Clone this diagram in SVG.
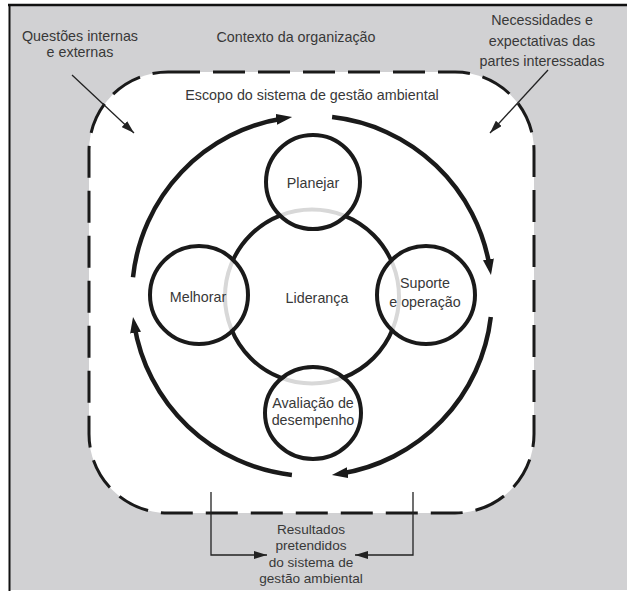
<svg xmlns="http://www.w3.org/2000/svg" width="627" height="593" viewBox="0 0 627 593">
  <style>
    .t { font-family: "Liberation Sans", Arial, sans-serif; font-size: 14.3px; fill: #383838; text-anchor: middle; }
    .ts { font-family: "Liberation Sans", Arial, sans-serif; font-size: 13.6px; fill: #383838; text-anchor: middle; }
    .node { fill: none; stroke: #1a1a1a; stroke-width: 4; }
    .cycle { fill: none; stroke: #1a1a1a; stroke-width: 4.5; marker-end: url(#big); }
    .thin { fill: none; stroke: #222; stroke-width: 1.3; marker-end: url(#small); }
  </style>
  <defs>
    <marker id="big" markerUnits="userSpaceOnUse" markerWidth="16" markerHeight="11" viewBox="0 0 16 11" refX="8" refY="5.5" orient="auto">
      <path d="M0,0 L16,5.5 L0,11 z" fill="#1a1a1a"/>
    </marker>
    <marker id="small" markerUnits="userSpaceOnUse" markerWidth="13" markerHeight="8" viewBox="0 0 13 8" refX="13" refY="4" orient="auto">
      <path d="M0,0 L13,4 L0,8 z" fill="#222"/>
    </marker>
    <mask id="ringMask" maskUnits="userSpaceOnUse" x="0" y="0" width="627" height="593">
      <rect x="0" y="0" width="627" height="593" fill="#fff"/>
      <circle cx="313" cy="182" r="46" fill="#000"/>
      <circle cx="199" cy="295" r="47" fill="#000"/>
      <circle cx="426" cy="295" r="47" fill="#000"/>
      <ellipse cx="313" cy="413" rx="46" ry="44" fill="#000"/>
    </mask>
  </defs>

  <!-- frame -->
  <rect x="0" y="0" width="627" height="593" fill="#fff"/>
  <rect x="10" y="6" width="617" height="584" fill="#d1d1d3"/>
  <line x1="8" y1="5" x2="627" y2="5" stroke="#111" stroke-width="2.5"/>
  <line x1="9.5" y1="4" x2="9.5" y2="591" stroke="#111" stroke-width="2"/>

  <!-- scope -->
  <g id="scope">
    <rect x="89" y="72" width="445" height="441" rx="79" ry="79" fill="#fff" stroke="#1a1a1a" stroke-width="3" stroke-dasharray="32 13"/>
    <text class="t" x="312" y="100">Escopo do sistema de gestão ambiental</text>
  </g>

  <g id="context">
    <text class="t" x="296" y="42">Contexto da organização</text>
  </g>
  <g id="issues">
    <text class="t" x="80" y="41">Questões internas</text>
    <text class="t" x="80" y="57">e externas</text>
  </g>
  <g id="needs">
    <text class="t" x="542" y="25">Necessidades e</text>
    <text class="t" x="542" y="46">expectativas das</text>
    <text class="t" x="542" y="66">partes interessadas</text>
  </g>

  <!-- leadership ring -->
  <g id="lideranca">
    <circle cx="312" cy="296.5" r="87" fill="none" stroke="#d8d8d8" stroke-width="4"/>
    <circle cx="312" cy="296.5" r="87" fill="none" stroke="#1a1a1a" stroke-width="4" mask="url(#ringMask)"/>
    <text class="t" x="317" y="303">Liderança</text>
  </g>

  <g id="planejar">
    <circle class="node" cx="313" cy="182" r="47"/>
    <text class="t" x="313" y="188">Planejar</text>
  </g>
  <g id="melhorar">
    <circle class="node" cx="199" cy="295" r="49"/>
    <text class="t" x="198" y="302">Melhorar</text>
  </g>
  <g id="suporte">
    <circle class="node" cx="426" cy="295" r="49"/>
    <text class="t" x="425" y="288">Suporte</text>
    <text class="t" x="425" y="307">e operação</text>
  </g>
  <g id="avaliacao">
    <ellipse class="node" cx="313" cy="413" rx="48" ry="46"/>
    <text class="t" x="313" y="408">Avaliação de</text>
    <text class="t" x="313" y="425">desempenho</text>
  </g>

  <g id="results">
    <text class="ts" x="311" y="534">Resultados</text>
    <text class="ts" x="311" y="550">pretendidos</text>
    <text class="ts" x="311" y="567">do sistema de</text>
    <text class="ts" x="311" y="583">gestão ambiental</text>
  </g>

  <!-- connectors -->
  <g id="connectors">
    <path class="cycle" d="M133,277.2 A180,180 0 0 1 284.2,118.2"/>
    <path class="cycle" d="M332.1,117.1 A180,180 0 0 1 489.7,267.2"/>
    <path class="cycle" d="M490.8,317 A180,180 0 0 1 339.8,473.8"/>
    <path class="cycle" d="M291.9,474.9 A180,180 0 0 1 134.3,324.8"/>
    <path class="thin" d="M72,75 L134,133"/>
    <path class="thin" d="M548,70 L490,133"/>
    <path class="thin" d="M211,492 V555 H267"/>
    <path class="thin" d="M413,492 V555 H355"/>
  </g>
</svg>
